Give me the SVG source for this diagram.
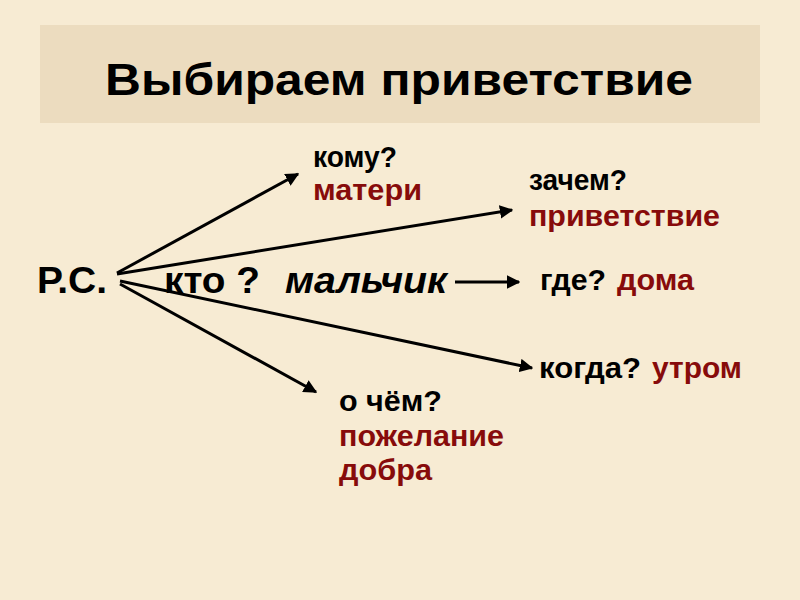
<svg xmlns="http://www.w3.org/2000/svg" width="800" height="600" viewBox="0 0 800 600">
<defs>
<marker id="ah" viewBox="0 0 10 10" refX="9" refY="5" markerWidth="4.5" markerHeight="4.5" orient="auto" markerUnits="strokeWidth">
<path d="M0,0 L10,5 L0,10 z" fill="#000"/>
</marker>
</defs>
<style>
.t{font-family:"Liberation Sans",Arial,sans-serif;font-weight:bold}
.q{font-size:30px;fill:#000}
.a{font-size:30px;fill:#870b0b}
.m{font-size:36px;fill:#000}
.c{stroke:#000;stroke-width:3;fill:none;marker-end:url(#ah)}
</style>
<rect width="800" height="600" fill="#f7ebd3"/>
<g id="title">
<rect x="40" y="25" width="720" height="98" fill="#ecdcbf"/>
<text class="t" x="105" y="95" font-size="44" textLength="588" lengthAdjust="spacingAndGlyphs">Выбираем  приветствие</text>
</g>
<g id="connectors">
<line class="c" x1="117" y1="273" x2="298" y2="174"/>
<line class="c" x1="117" y1="274" x2="512" y2="210"/>
<line class="c" x1="455" y1="282" x2="519" y2="282"/>
<line class="c" x1="120" y1="281" x2="532" y2="368"/>
<line class="c" x1="120" y1="284" x2="316" y2="392"/>
</g>
<g id="subject">
<text class="t m" x="37" y="293" textLength="70" lengthAdjust="spacingAndGlyphs">Р.С.</text>
<text class="t m" x="164" y="293" textLength="96" lengthAdjust="spacingAndGlyphs">кто ?</text>
<text class="t m" x="285" y="293" font-style="italic" textLength="162" lengthAdjust="spacingAndGlyphs">мальчик</text>
</g>
<g id="komu">
<text class="t q" x="313" y="167" textLength="84" lengthAdjust="spacingAndGlyphs">кому?</text>
<text class="t a" x="313" y="200" textLength="109" lengthAdjust="spacingAndGlyphs">матери</text>
</g>
<g id="zachem">
<text class="t q" x="529" y="190" textLength="98" lengthAdjust="spacingAndGlyphs">зачем?</text>
<text class="t a" x="529" y="226" textLength="191" lengthAdjust="spacingAndGlyphs">приветствие</text>
</g>
<g id="gde">
<text class="t q" x="540" y="290" textLength="66" lengthAdjust="spacingAndGlyphs">где?</text>
<text class="t a" x="617" y="290" textLength="77" lengthAdjust="spacingAndGlyphs">дома</text>
</g>
<g id="kogda">
<text class="t q" x="539" y="378" textLength="102" lengthAdjust="spacingAndGlyphs">когда?</text>
<text class="t a" x="652" y="378" textLength="90" lengthAdjust="spacingAndGlyphs">утром</text>
</g>
<g id="o-chem">
<text class="t q" x="339" y="411" textLength="103" lengthAdjust="spacingAndGlyphs">о чём?</text>
<text class="t a" x="339" y="446" textLength="165" lengthAdjust="spacingAndGlyphs">пожелание</text>
<text class="t a" x="339" y="480" textLength="93" lengthAdjust="spacingAndGlyphs">добра</text>
</g>
</svg>
